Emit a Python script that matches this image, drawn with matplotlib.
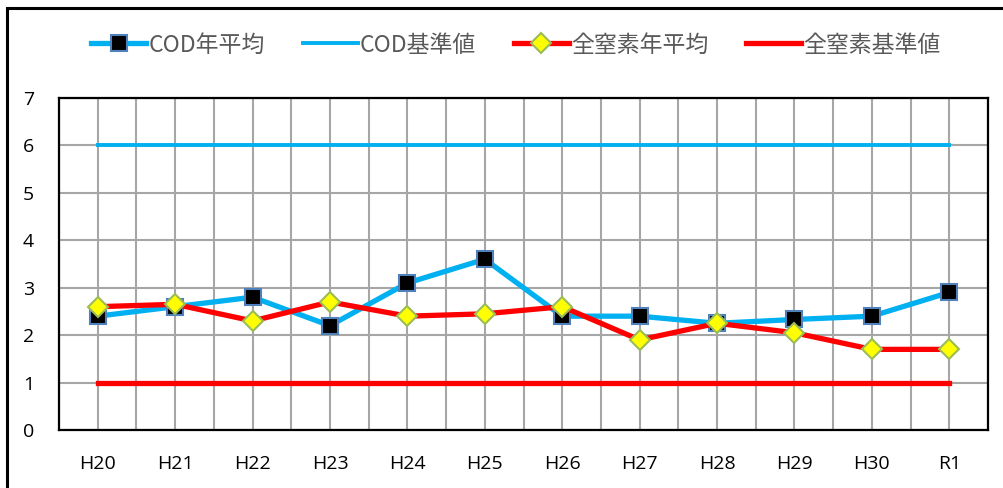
import matplotlib
matplotlib.use("Agg")
import matplotlib.pyplot as plt
from matplotlib.patches import Rectangle
import numpy as np

plt.rcParams['font.family'] = ['Noto Sans CJK JP', 'DejaVu Sans']

years = ["H20", "H21", "H22", "H23", "H24", "H25", "H26", "H27", "H28", "H29", "H30", "R1"]
cod_avg = [2.4, 2.6, 2.8, 2.2, 3.1, 3.6, 2.4, 2.4, 2.25, 2.33, 2.4, 2.9]
cod_std = [6] * 12
tn_avg = [2.6, 2.65, 2.3, 2.7, 2.4, 2.45, 2.6, 1.9, 2.25, 2.05, 1.7, 1.7]
tn_std = [1] * 12
labels = ["COD年平均", "COD基準値", "全窒素年平均", "全窒素基準値"]

fig = plt.figure(figsize=(10.04, 4.88), dpi=100)
ax = fig.add_axes([59/1004, 58/488, (988-59)/1004, (430-98)/488])

x = np.arange(len(years))
ax.plot(x, cod_avg, color="#00B0F0", lw=3.8, marker="s", ms=12,
        mfc="black", mec="#4F81BD", mew=1.5, label=labels[0], zorder=4)
ax.plot(x, cod_std, color="#00B0F0", lw=2.8, label=labels[1], zorder=3)
ax.plot(x, tn_avg, color="#FF0000", lw=3.8, marker="D", ms=10,
        mfc="#FFFF00", mec="#9BBB59", mew=1.5, label=labels[2], zorder=5)
ax.plot(x, tn_std, color="#FF0000", lw=3.8, label=labels[3], zorder=3)

ax.set_xlim(-0.5, len(years) - 0.5)
ax.set_ylim(0, 7)
ax.set_yticks(range(0, 8))
ax.set_xticks(x)
ax.set_xticklabels(years)
for xv in np.arange(-0.5, len(years), 0.5):
    ax.axvline(xv, color="#A6A6A6", lw=1.5, zorder=0)
ax.grid(True, which="major", axis="y", color="#A6A6A6", lw=1.5, zorder=0)
ax.set_axisbelow(True)
ax.tick_params(axis="both", which="both", length=0)
ax.tick_params(axis="x", pad=18, labelsize=14)
ax.tick_params(axis="y", pad=18, labelsize=14)
for lab in ax.get_xticklabels() + ax.get_yticklabels():
    lab.set_family(["Open Sans", "DejaVu Sans"])
for s in ax.spines.values():
    s.set_linewidth(1.6)
    s.set_color("black")

leg = fig.legend(loc="center", bbox_to_anchor=(516/1004, 1 - 45/488), ncol=4,
                 frameon=False, fontsize=16.5, handlelength=2.4,
                 columnspacing=1.65, handletextpad=0.1, labelcolor="#595959")

fig.patches.append(Rectangle((7/1004, -0.1), 1.2, 1 - 8/488 + 0.1,
                             transform=fig.transFigure, fill=False,
                             edgecolor="black", lw=2.2))

fig.savefig("out.png", dpi=100)
